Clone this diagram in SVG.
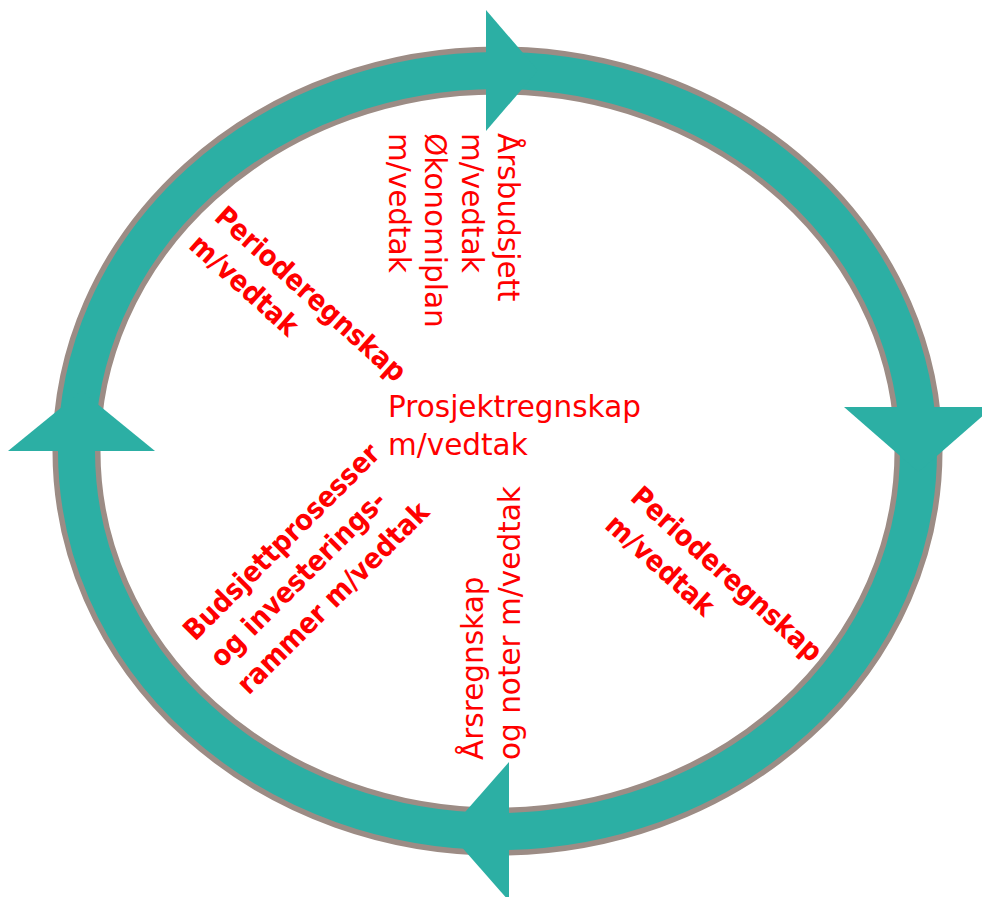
<svg xmlns="http://www.w3.org/2000/svg" width="982" height="897" viewBox="0 0 982 897">
<style>
.t{font-family:"DejaVu Sans",Verdana,sans-serif;font-size:29.5px;fill:#FF0000}
.b{font-family:"DejaVu Sans Condensed","DejaVu Sans",sans-serif;font-stretch:condensed;font-size:28.5px;font-weight:bold;fill:#FF0000}
.head{fill:#2CAFA4}
</style>
<rect width="982" height="897" fill="#FFFFFF"/>
<g id="cycle">
<ellipse cx="497.5" cy="451" rx="421" ry="380.5" fill="none" stroke="#9C8C85" stroke-width="48"/>
<ellipse cx="497.5" cy="451" rx="421" ry="380.5" fill="none" stroke="#2CAFA4" stroke-width="37"/>
</g>
<g id="arrowheads">
<polygon class="head" points="486,10 538,70.5 486,131"/>
<polygon class="head" points="844,407 993,407 918.5,472"/>
<polygon class="head" points="509,762 509,901 448,831.5"/>
<polygon class="head" points="8,451 155,451 81.5,391"/>
</g>
<g id="center">
<text class="t" x="388" y="417">Prosjektregnskap</text>
<text class="t" x="388" y="455">m/vedtak</text>
</g>
<g id="arsbudsjett" transform="translate(498,133) rotate(90)">
<text class="t" x="0" y="0">Årsbudsjett</text>
<text class="t" x="0" y="36.5">m/vedtak</text>
<text class="t" x="0" y="73">Økonomiplan</text>
<text class="t" x="0" y="109.5">m/vedtak</text>
</g>
<g id="periode1" transform="translate(213,219) rotate(42)">
<text class="b" x="0" y="0">Perioderegnskap</text>
<text class="b" x="0" y="38">m/vedtak</text>
</g>
<g id="periode2" transform="translate(629,499) rotate(42)">
<text class="b" x="0" y="0">Perioderegnskap</text>
<text class="b" x="0" y="38">m/vedtak</text>
</g>
<g id="budsjett" transform="translate(195,642) rotate(-45)">
<text class="b" x="0" y="0">Budsjettprosesser</text>
<text class="b" x="0" y="38">og investerings-</text>
<text class="b" x="0" y="76">rammer m/vedtak</text>
</g>
<g id="arsregnskap" transform="translate(483,760) rotate(-90)">
<text class="t" x="0" y="0">Årsregnskap</text>
<text class="t" x="0" y="37">og noter m/vedtak</text>
</g>
</svg>
